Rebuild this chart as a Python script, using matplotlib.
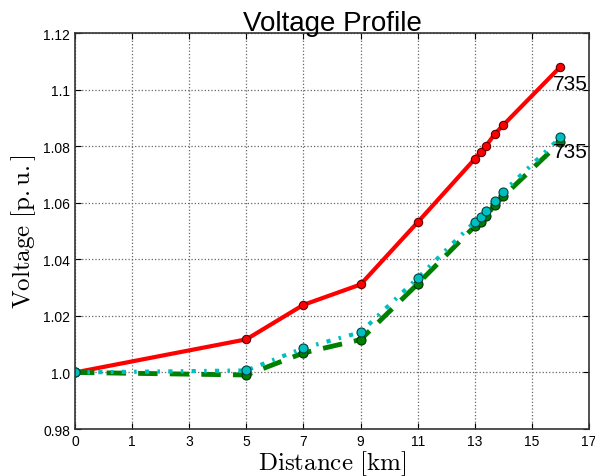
import numpy as np
import matplotlib
matplotlib.use("Agg")
import matplotlib.pyplot as plt

plt.rcParams['mathtext.fontset'] = 'cm'
plt.rcParams['font.family'] = ['Liberation Sans', 'DejaVu Sans']

# posiciones en el eje (las etiquetas del eje no son lineales)
xpos = [0, 6, 8, 10, 12, 14, 14.2, 14.4, 14.7, 15, 17]
v_red = [1.0, 1.0117, 1.0239, 1.0311, 1.0531, 1.0755, 1.0779, 1.0802, 1.0843, 1.0875, 1.1081]
v_cyan = [1.0, 1.0007, 1.0086, 1.0142, 1.0334, 1.0533, 1.0549, 1.0572, 1.0607, 1.0639, 1.0831]
v_green = [1.0, 0.9991, 1.0069, 1.0116, 1.0313, 1.0517, 1.0531, 1.0554, 1.0592, 1.0623, 1.0815]
end_label = "735"

xticks = np.arange(0, 19, 2)
xticklabels = ['0', '1', '3', '5', '7', '9', '11', '13', '15', '17']
yticks = [0.98, 1.0, 1.02, 1.04, 1.06, 1.08, 1.1, 1.12]
yticklabels = ['0.98', '1.0', '1.02', '1.04', '1.06', '1.08', '1.1', '1.12']

fig = plt.figure(figsize=(5.95, 4.77), dpi=100)
ax = fig.add_axes([0.126, 0.0985, 0.864, 0.8302])

ax.plot(xpos, v_red, '-', color='red', linewidth=3, marker='o', markersize=6,
        markerfacecolor='red', markeredgecolor='#600000', markeredgewidth=0.8)
ax.plot(xpos, v_green, '--', color='green', linewidth=3.5, marker='o', markersize=6.5,
        markerfacecolor='green', markeredgecolor='#003000', markeredgewidth=0.8, dashes=(4, 2.5))
ax.plot(xpos, v_cyan, '-.', color='c', linewidth=3, marker='o', markersize=6.5,
        markerfacecolor='c', markeredgecolor='#004040', markeredgewidth=0.8, dashes=(1, 2, 0.6, 2))

ax.text(xpos[-1] - 0.25, v_red[-1] - 0.0025, end_label, fontsize=15, va='top', ha='left')
ax.text(xpos[-1] - 0.25, v_cyan[-1] - 0.0018, end_label, fontsize=15, va='top', ha='left')

ax.set_xlim(0, 18)
ax.set_ylim(0.98, 1.12)
ax.set_xticks(xticks)
ax.set_xticklabels(xticklabels)
ax.set_yticks(yticks)
ax.set_yticklabels(yticklabels)
ax.tick_params(direction='in', length=4, labelsize=10, top=True, right=True)
ax.grid(True, color='#666666', linestyle=':', linewidth=0.9)
for s in ax.spines.values():
    s.set_linewidth(1.2)
    s.set_color('#333333')

ax.set_title("Voltage Profile", fontsize=20, pad=2)
ax.set_xlabel(r"$\mathrm{Distance\ [km]}$", fontsize=18, labelpad=0)
ax.set_ylabel(r"$\mathrm{Voltage\ [p.u.]}$", fontsize=18, labelpad=4)

fig.savefig("out.png", dpi=100)
